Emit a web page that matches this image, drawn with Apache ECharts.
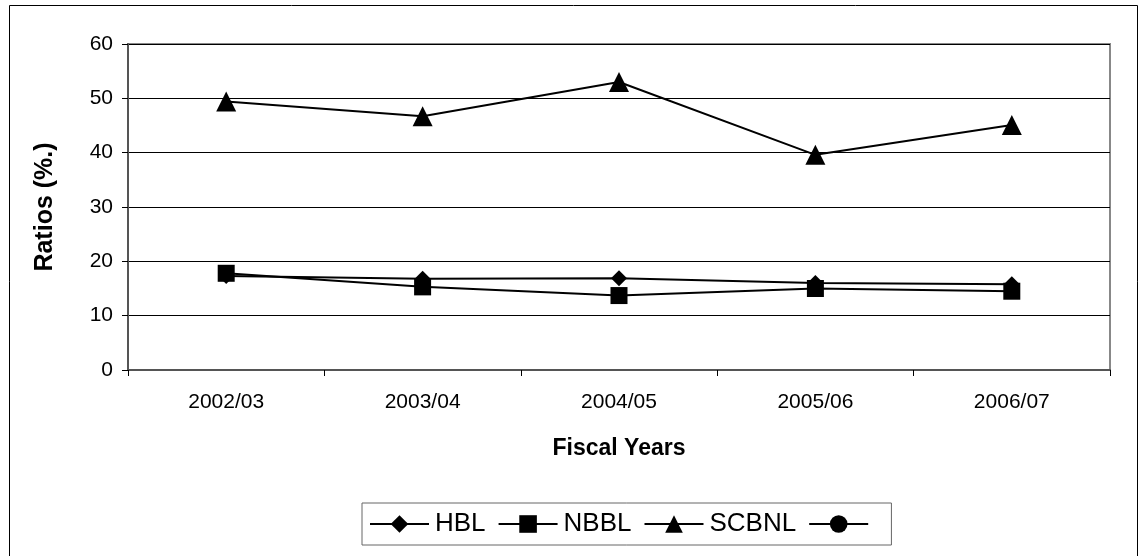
<!DOCTYPE html>
<html>
<head>
<meta charset="utf-8">
<script src="https://cdn.jsdelivr.net/npm/echarts@6/dist/echarts.min.js"></script>
<style>
  html, body { margin: 0; padding: 0; background: #fff; }
  #chart { width: 1144px; height: 556px; }
</style>
</head>
<body>
<div id="chart"></div>
<script>
var years = ['2002/03', '2003/04', '2004/05', '2005/06', '2006/07'];
var hbl = [17.3, 16.8, 16.9, 16.0, 15.8];
var nbbl = [17.8, 15.3, 13.7, 15.0, 14.5];
var scbnl = [49.4, 46.7, 53.0, 39.6, 45.1];
var blank = [];
var yTicks = [0, 10, 20, 30, 40, 50, 60];

var font = 'Liberation Sans, Arial, sans-serif';

function lineSeries(name, data, symbol, size) {
  return {
    name: name,
    type: 'line',
    data: data,
    symbol: symbol,
    symbolSize: size,
    itemStyle: { color: '#000' },
    lineStyle: { color: '#000', width: 2 },
    animation: false
  };
}

var chart = echarts.init(document.getElementById('chart'));
chart.setOption({
  backgroundColor: '#fff',
  graphic: [
    {
      type: 'rect',
      shape: { x: 9.5, y: 5.5, width: 1128, height: 560 },
      style: { fill: 'none', stroke: '#000', lineWidth: 1 },
      silent: true
    },
    {
      type: 'rect',
      shape: { x: 128, y: 44, width: 982, height: 326 },
      style: { fill: 'none', stroke: '#888', lineWidth: 2 },
      silent: true,
      z: -1
    }
  ],
  grid: {
    left: 128,
    right: 34,
    top: 44,
    bottom: 186
  },
  legend: {
    data: ['HBL', 'NBBL', 'SCBNL', ' '],
    left: 362,
    top: 503,
    padding: [7, 10, 7, 7],
    itemWidth: 59,
    itemHeight: 22,
    itemGap: 12,
    borderColor: '#666',
    borderWidth: 1,
    textStyle: { fontFamily: font, fontSize: 26, lineHeight: 28, color: '#000', padding: [0, 0, 0, 1] }
  },
  xAxis: {
    type: 'category',
    data: years,
    boundaryGap: true,
    name: 'Fiscal Years',
    nameLocation: 'middle',
    nameGap: 67,
    nameTextStyle: { fontFamily: font, fontSize: 23, fontWeight: 'bold', color: '#000' },
    axisLine: { lineStyle: { color: '#555', width: 2 } },
    axisTick: { show: true, length: 6, lineStyle: { color: '#000' } },
    axisLabel: { fontFamily: font, fontSize: 21, color: '#000', margin: 22 },
    splitLine: { show: false }
  },
  yAxis: {
    type: 'value',
    min: yTicks[0],
    max: yTicks[yTicks.length - 1],
    interval: 10,
    name: 'Ratios (%.)',
    nameLocation: 'middle',
    nameGap: 70,
    nameRotate: 90,
    nameTextStyle: { fontFamily: font, fontSize: 25, fontWeight: 'bold', color: '#000' },
    axisLine: { show: true, lineStyle: { color: '#555', width: 2 } },
    axisTick: { show: true, length: 6, lineStyle: { color: '#000' } },
    axisLabel: { fontFamily: font, fontSize: 21, color: '#000', margin: 15 },
    splitLine: { show: true, lineStyle: { color: '#000', width: 1 } }
  },
  series: [
    lineSeries('HBL', hbl, 'diamond', 16),
    lineSeries('NBBL', nbbl, 'rect', 17),
    lineSeries('SCBNL', scbnl, 'triangle', 20),
    lineSeries(' ', blank, 'circle', 16)
  ]
});
</script>
</body>
</html>
